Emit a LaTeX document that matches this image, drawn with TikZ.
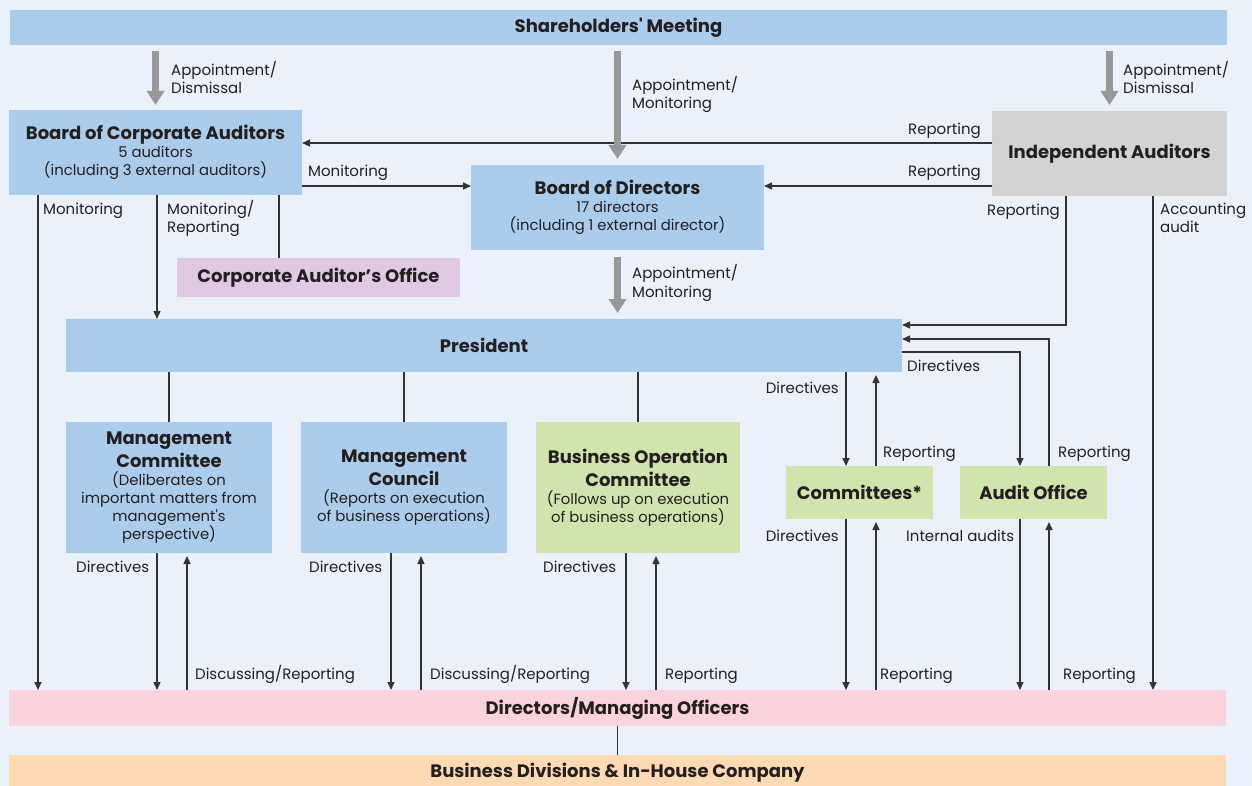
\documentclass[tikz,border=0pt]{standalone}
\usepackage{fontspec}
\setmainfont{Poppins}
\usetikzlibrary{arrows.meta}
\definecolor{bg}{HTML}{EAF1FA}
\definecolor{bluebox}{HTML}{ABCDEB}
\definecolor{greybox}{HTML}{D3D3D4}
\definecolor{lavbox}{HTML}{E0C9E3}
\definecolor{greenbox}{HTML}{CFE5AD}
\definecolor{pinkbox}{HTML}{FAD4DA}
\definecolor{peachbox}{HTML}{FDDAB4}
\definecolor{txt}{HTML}{231F20}
\definecolor{lc}{HTML}{333333}
\definecolor{garrow}{HTML}{989898}
\newcommand\bx[7]{\node[box, fill=#6, minimum width={#4-#2}, minimum height={#5-#3}] (#1) at ({(#2+#4)/2},{(#3+#5)/2}) {#7};}
\newcommand\ttl[1]{{\fontsize{18}{22}\selectfont\bfseries #1}}
\begin{document}
\begin{tikzpicture}[x=1pt,y=-1pt,
  box/.style={inner sep=0pt, outer sep=0pt, align=center, text=txt, font=\fontsize{14.8}{18}\selectfont},
  lbl/.style={inner sep=0pt, align=left, text=txt, font=\fontsize{15}{18}\selectfont},
  ln/.style={draw=lc, line width=1.4pt},
  arr/.style={ln, -{Triangle[length=8pt,width=7pt]}},
  garr/.style={draw=garrow, line width=7pt, -{Triangle[length=14pt,width=17pt]}}]
\fill[bg] (0,0) rectangle (1252,786);
\useasboundingbox (0,0) rectangle (1252,786);
% boxes
\bx{sm}{10}{10}{1227}{45}{bluebox}{\ttl{Shareholders\textquotesingle{} Meeting}}
\bx{bca}{9}{110}{302}{195}{bluebox}{\ttl{Board of Corporate Auditors}\\5 auditors\\(including 3 external auditors)}
\bx{ia}{992}{111}{1227}{196}{greybox}{\ttl{Independent Auditors}}
\bx{bod}{471}{165}{764}{250}{bluebox}{\ttl{Board of Directors}\\17 directors\\(including 1 external director)}
\bx{cao}{177}{258}{460}{297}{lavbox}{\ttl{Corporate Auditor’s Office}}
\bx{pres}{66}{319}{902}{372}{bluebox}{\ttl{President}}
\bx{mc}{66}{422}{272}{553}{bluebox}{\ttl{Management}\\[3pt]\ttl{Committee}\\(Deliberates on\\important matters from\\management\textquotesingle{}s\\perspective)}
\bx{mco}{301}{422}{507}{553}{bluebox}{\ttl{Management}\\[3pt]\ttl{Council}\\(Reports on execution\\of business operations)}
\bx{boc}{536}{422}{740}{553}{greenbox}{\ttl{Business Operation}\\[3pt]\ttl{Committee}\\(Follows up on execution\\of business operations)}
\bx{com}{786}{466}{933}{519}{greenbox}{\ttl{Committees*}}
\bx{ao}{960}{466}{1107}{519}{greenbox}{\ttl{Audit Office}}
\bx{dmo}{9}{690}{1226}{726}{pinkbox}{\ttl{Directors/Managing Officers}}
\bx{bd}{9}{755}{1226}{791}{peachbox}{\ttl{Business Divisions \& In-House Company}}
% connectors
\draw[arr] (ia.west |- 0,143) -- (bca.east |- 0,143);
\draw[arr] (bca.east |- 0,186) -- (bod.west |- 0,186);
\draw[arr] (ia.west |- 0,186) -- (bod.east |- 0,186);
\draw[garr, shorten <=6pt, shorten >=5pt] (sm.south -| bca.north) -- (bca.north);
\draw[garr, shorten <=6pt, shorten >=6pt] (sm.south -| bod.north) -- (bod.north);
\draw[garr, shorten <=6pt, shorten >=6pt] (sm.south -| ia.north) -- (ia.north);
\draw[garr, shorten <=7pt, shorten >=6pt] (bod.south) -- (pres.north -| bod.south);
\draw[arr] (bca.south -| 38,0) -- (dmo.north -| 38,0);
\draw[arr] (bca.south -| 157,0) -- (pres.north -| 157,0);
\draw[ln] (bca.south -| 279,0) -- (cao.north -| 279,0);
\draw[arr] (ia.south -| 1066,0) |- (pres.east |- 0,325);
\draw[arr] (ia.south -| 1153,0) -- (dmo.north -| 1153,0);
\draw[ln] (pres.south -| mc.north) -- (mc.north);
\draw[ln] (pres.south -| mco.north) -- (mco.north);
\draw[ln] (pres.south -| boc.north) -- (boc.north);
\draw[arr] (pres.south -| 846,0) -- (com.north -| 846,0);
\draw[arr, shorten >=3pt] (com.north -| 876,0) -- (pres.south -| 876,0);
\draw[arr] (pres.east |- 0,352) -| (ao.north -| 1020,0);
\draw[arr] (ao.north -| 1049,0) |- (pres.east |- 0,339);
\draw[arr] (mc.south -| 157,0) -- (dmo.north -| 157,0);
\draw[arr, shorten >=3pt] (dmo.north -| 187,0) -- (mc.south -| 187,0);
\draw[arr] (mco.south -| 391,0) -- (dmo.north -| 391,0);
\draw[arr, shorten >=3pt] (dmo.north -| 421,0) -- (mco.south -| 421,0);
\draw[arr] (boc.south -| 626,0) -- (dmo.north -| 626,0);
\draw[arr, shorten >=3pt] (dmo.north -| 656,0) -- (boc.south -| 656,0);
\draw[arr] (com.south -| 846,0) -- (dmo.north -| 846,0);
\draw[arr, shorten >=3pt] (dmo.north -| 876,0) -- (com.south -| 876,0);
\draw[arr] (ao.south -| 1020,0) -- (dmo.north -| 1020,0);
\draw[arr, shorten >=3pt] (dmo.north -| 1049,0) -- (ao.south -| 1049,0);
\draw[ln] (dmo.south) -- (bd.north -| dmo.south);
% labels
\node[lbl, anchor=base west] (l1) at (171,94) {Appointment/\\Dismissal};
\node[lbl, anchor=base west] (l2) at (632,109) {Appointment/\\Monitoring};
\node[lbl, anchor=base west] (l3) at (1123,94) {Appointment/\\Dismissal};
\node[lbl, anchor=base east] (l4) at (981,135) {Reporting};
\node[lbl, anchor=base west] (l5) at (308,177) {Monitoring};
\node[lbl, anchor=base east] (l6) at (981,177) {Reporting};
\node[lbl, anchor=base west] (l7) at (43,215) {Monitoring};
\node[lbl, anchor=base west] (l8) at (167,233) {Monitoring/\\Reporting};
\node[lbl, anchor=base east] (l9) at (1060,216) {Reporting};
\node[lbl, anchor=base west] (l10) at (1160,233) {Accounting\\audit};
\node[lbl, anchor=base west] (l11) at (632,297) {Appointment/\\Monitoring};
\node[lbl, anchor=base west] (l12) at (907,371) {Directives};
\node[lbl, anchor=base east] (l13) at (839,393) {Directives};
\node[lbl, anchor=base west] (l14) at (883,457) {Reporting};
\node[lbl, anchor=base west] (l15) at (1058,457) {Reporting};
\node[lbl, anchor=base east] (l16) at (839,541) {Directives};
\node[lbl, anchor=base west] (l17) at (906,541) {Internal audits};
\node[lbl, anchor=base west] (l18) at (76,572) {Directives};
\node[lbl, anchor=base west] (l19) at (309,572) {Directives};
\node[lbl, anchor=base west] (l20) at (543,572) {Directives};
\node[lbl, anchor=base west] (l21) at (195,679) {Discussing/Reporting};
\node[lbl, anchor=base west] (l22) at (430,679) {Discussing/Reporting};
\node[lbl, anchor=base west] (l23) at (665,679) {Reporting};
\node[lbl, anchor=base west] (l24) at (880,679) {Reporting};
\node[lbl, anchor=base west] (l25) at (1063,679) {Reporting};
\end{tikzpicture}
\end{document}
